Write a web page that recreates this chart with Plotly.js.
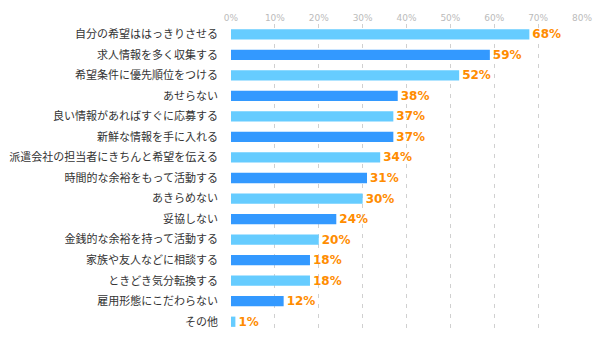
<!DOCTYPE html>
<html><head><meta charset="utf-8">
<script src="https://cdn.plot.ly/plotly-3.0.1.min.js"></script>
<style>body{margin:0;background:#fff}#c{width:600px;height:338px}</style>
</head><body><div id="c"></div>
<script>
const categories = ["自分の希望ははっきりさせる","求人情報を多く収集する","希望条件に優先順位をつける","あせらない","良い情報があればすぐに応募する","新鮮な情報を手に入れる","派遣会社の担当者にきちんと希望を伝える","時間的な余裕をもって活動する","あきらめない","妥協しない","金銭的な余裕を持って活動する","家族や友人などに相談する","ときどき気分転換する","雇用形態にこだわらない","その他"];
const values = [68,59,52,38,37,37,34,31,30,24,20,18,18,12,1];
const tickVals = [0,10,20,30,40,50,60,70,80];
const tickText = ["0%","10%","20%","30%","40%","50%","60%","70%","80%"];
const colorLight = "#66CCFF", colorDark = "#3399FF";
const colors = categories.map((c,i)=> i%2===0 ? colorLight : colorDark);
const trace = {
  type:"bar", orientation:"h", y:categories, x:values,
  width:0.5,
  marker:{color:colors, line:{width:0}},
  text: values.map(v=>v+"%"), textposition:"outside", cliponaxis:false,
  constraintext:"none",
  textfont:{family:"DejaVu Sans", size:12, color:"#FF8C00", weight:"bold"},
  hoverinfo:"none"
};
const layout = {
  width:600, height:338, margin:{l:231,r:18,t:24,b:6},
  paper_bgcolor:"#fff", plot_bgcolor:"#fff", showlegend:false,
  xaxis:{side:"top", range:[0,80], tickvals:tickVals, ticktext:tickText,
    tickfont:{family:"DejaVu Sans", size:9, color:"#BBBBBB"},
    showgrid:true, gridcolor:"#D0D0D0", griddash:"4px,6px", gridwidth:1,
    zeroline:false, showline:false, ticks:"", ticklen:0, fixedrange:true},
  yaxis:{autorange:"reversed", type:"category",
    tickfont:{family:"Noto Sans CJK JP", size:11, color:"#333333"},
    showgrid:false, zeroline:false, showline:false, ticks:"", ticklabelstandoff:12}
};
Plotly.newPlot("c",[trace],layout,{staticPlot:true,displayModeBar:false});
</script></body></html>
